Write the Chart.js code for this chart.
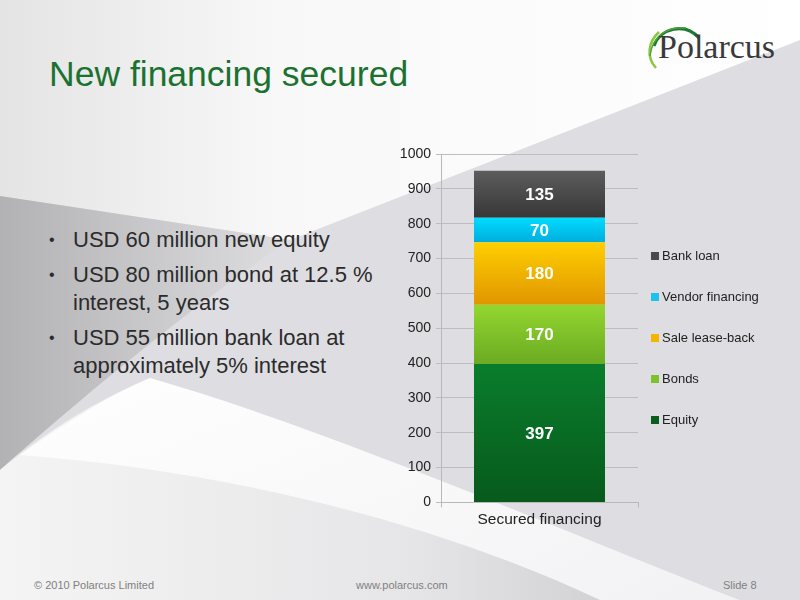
<!DOCTYPE html>
<html>
<head>
<title>New financing secured</title>
<script src="https://cdn.jsdelivr.net/npm/chart.js"></script>
<style>
  body { margin: 0; width: 800px; height: 600px; position: relative; overflow: hidden; font-family: "Liberation Sans", Arial, sans-serif; }
  #bg { position: absolute; left: 0; top: 0; }
  #title { position: absolute; left: 49px; top: 54px; font-size: 35.5px; color: #1b7230; white-space: nowrap; }
  #logo { position: absolute; left: 658px; top: 28px; font-family: "Liberation Serif", "DejaVu Serif", serif; font-size: 34px; color: #3a3a3a; }
  ul { position: absolute; left: 49px; top: 226px; margin: 0; padding: 0; list-style: none; font-size: 22px; color: #2b2b2b; line-height: 28px; width: 340px; }
  li { position: relative; padding-left: 24px; margin-bottom: 7px; }
  li:before { content: "\2022"; position: absolute; left: 0; top: 0; font-size: 16px; }
  #chartBox { position: absolute; left: 380px; top: 140px; width: 420px; height: 392px; }
  #legend { position: absolute; left: 651px; top: 249px; font-size: 13px; color: #222; }
  #legend div { height: 41px; line-height: 14px; white-space: nowrap; }
  #legend span { display: inline-block; width: 8px; height: 8px; margin-right: 3px; }
  .foot { position: absolute; top: 579px; font-size: 11px; color: #808080; }
</style>
</head>
<body>
<svg id="bg" width="800" height="600">
  <defs>
    <linearGradient id="light" x1="0" y1="0" x2="1" y2="0">
      <stop offset="0" stop-color="#e4e4e4"/>
      <stop offset="0.35" stop-color="#f8f8f8"/>
      <stop offset="1" stop-color="#ffffff"/>
    </linearGradient>
    <linearGradient id="swoosh" x1="0" y1="0" x2="1" y2="0">
      <stop offset="0" stop-color="#b2b2b4"/>
      <stop offset="1" stop-color="#dedee0"/>
    </linearGradient>
    <linearGradient id="band" x1="0" y1="0" x2="1" y2="1">
      <stop offset="0" stop-color="#ffffff"/>
      <stop offset="1" stop-color="#f4f4f6"/>
    </linearGradient>
    <linearGradient id="low" x1="0" y1="0" x2="1" y2="0">
      <stop offset="0" stop-color="#f4f4f4"/>
      <stop offset="0.55" stop-color="#e6e6e8"/>
      <stop offset="1" stop-color="#c4c4c8"/>
    </linearGradient>
  </defs>
  <rect width="800" height="600" fill="#dedee2"/>
  <path d="M0 0 L800 0 L800 40 L290 240 L0 196 Z" fill="url(#light)"/>
  <path d="M0 196 L290 240 C200 300 90 390 0 470 Z" fill="url(#swoosh)"/>
  <path d="M0 470 C60 420 110 395 150 378 C330 430 560 530 740 600 L0 600 Z" fill="url(#low)"/>
  <path d="M150 378 C330 430 560 530 740 600 L600 600 C430 520 220 470 20 455 C70 420 110 395 150 378 Z" fill="url(#band)" opacity="0.95"/>
  <path d="M659 32 C648 42 646 57 656 68" fill="none" stroke="#8cc63f" stroke-width="2.5"/>
  <path d="M654 46 C660 28 685 22 699 38" fill="none" stroke="#1d7a33" stroke-width="3"/>
  <path d="M650 56 C652 36 668 26 686 28" fill="none" stroke="#4fa33a" stroke-width="1.5"/>
</svg>

<div id="title">New financing secured</div>
<div id="logo">Polarcus</div>

<ul>
  <li>USD 60 million new equity</li>
  <li>USD 80 million bond at 12.5 % interest, 5 years</li>
  <li>USD 55 million bank loan at approximately 5% interest</li>
</ul>

<div id="chartBox"><canvas id="financingChart"></canvas></div>
<div id="legend"></div>

<div class="foot" style="left:34px">&copy; 2010 Polarcus Limited</div>
<div class="foot" style="left:356px">www.polarcus.com</div>
<div class="foot" style="left:723px">Slide 8</div>

<script>
const categories = ['Secured financing'];
const seriesNames = ['Equity', 'Bonds', 'Sale lease-back', 'Vendor financing', 'Bank loan'];
const equity = [397];
const bonds = [170];
const saleLeaseBack = [180];
const vendorFinancing = [70];
const bankLoan = [135];
const yTicks = [0, 100, 200, 300, 400, 500, 600, 700, 800, 900, 1000];

const seriesValues = [equity, bonds, saleLeaseBack, vendorFinancing, bankLoan];
// top / bottom colours of each segment's gradient
const gradTop = ['#0a7d2c', '#94d630', '#ffcf00', '#00dcff', '#5c5c5c'];
const gradBottom = ['#075a1c', '#6aab22', '#e09600', '#00aedd', '#373737'];
const legendColors = ['#0a5f20', '#7cc22a', '#f5b400', '#1cc2ee', '#4a4a4a'];

function segmentFill(i) {
    return function (ctx) {
        const chart = ctx.chart;
        if (!chart.chartArea || !chart.scales.y) return gradTop[i];
        const idx = ctx.dataIndex || 0;
        let start = 0;
        for (let k = 0; k < i; k++) start += seriesValues[k][idx];
        const end = start + seriesValues[i][idx];
        const y = chart.scales.y;
        const g = chart.ctx.createLinearGradient(0, y.getPixelForValue(end), 0, y.getPixelForValue(start));
        g.addColorStop(0, gradTop[i]);
        g.addColorStop(1, gradBottom[i]);
        return g;
    };
}

const valueLabels = {
    id: 'valueLabels',
    afterDatasetsDraw(chart) {
        const c = chart.ctx;
        c.save();
        c.fillStyle = '#ffffff';
        c.font = 'bold 17px "Liberation Sans", Arial, sans-serif';
        c.textAlign = 'center';
        c.textBaseline = 'middle';
        chart.data.datasets.forEach((ds, i) => {
            chart.getDatasetMeta(i).data.forEach((bar, j) => {
                const p = bar.getCenterPoint();
                c.fillText(ds.data[j], p.x, p.y + 1);
            });
        });
        c.restore();
    }
};

new Chart(document.getElementById('financingChart'), {
    type: 'bar',
    data: {
        labels: categories,
        datasets: seriesNames.map((name, i) => ({
            label: name,
            data: seriesValues[i],
            backgroundColor: segmentFill(i),
            borderWidth: 0,
            barPercentage: 0.665,
            categoryPercentage: 1
        }))
    },
    options: {
        responsive: true,
        maintainAspectRatio: false,
        animation: false,
        layout: { padding: { left: 0, right: 162, top: 14, bottom: 0 } },
        plugins: { legend: { display: false }, tooltip: { enabled: false } },
        scales: {
            x: {
                stacked: true,
                grid: { display: true, drawOnChartArea: false, offset: true, tickLength: 5, color: '#b8b8b8' },
                border: { color: '#b8b8b8' },
                ticks: { color: '#222', font: { size: 15.5, family: '"Liberation Sans", Arial' }, padding: 3 }
            },
            y: {
                stacked: true,
                min: 0,
                max: 1000,
                afterBuildTicks: (scale) => { scale.ticks = yTicks.map(v => ({ value: v })); },
                afterFit: (scale) => { scale.width = 61; },
                grid: { color: '#bdbdbd', tickLength: 5 },
                border: { color: '#b8b8b8' },
                ticks: {
                    color: '#222',
                    font: { size: 14, family: '"Liberation Sans", Arial' },
                    padding: 5,
                    callback: (v) => String(v)
                }
            }
        }
    },
    plugins: [valueLabels]
});

// legend in the slide's order: last series on top
const legend = document.getElementById('legend');
for (let i = seriesNames.length - 1; i >= 0; i--) {
    const row = document.createElement('div');
    row.innerHTML = '<span style="background:' + legendColors[i] + '"></span>' + seriesNames[i];
    legend.appendChild(row);
}
</script>
</body>
</html>
